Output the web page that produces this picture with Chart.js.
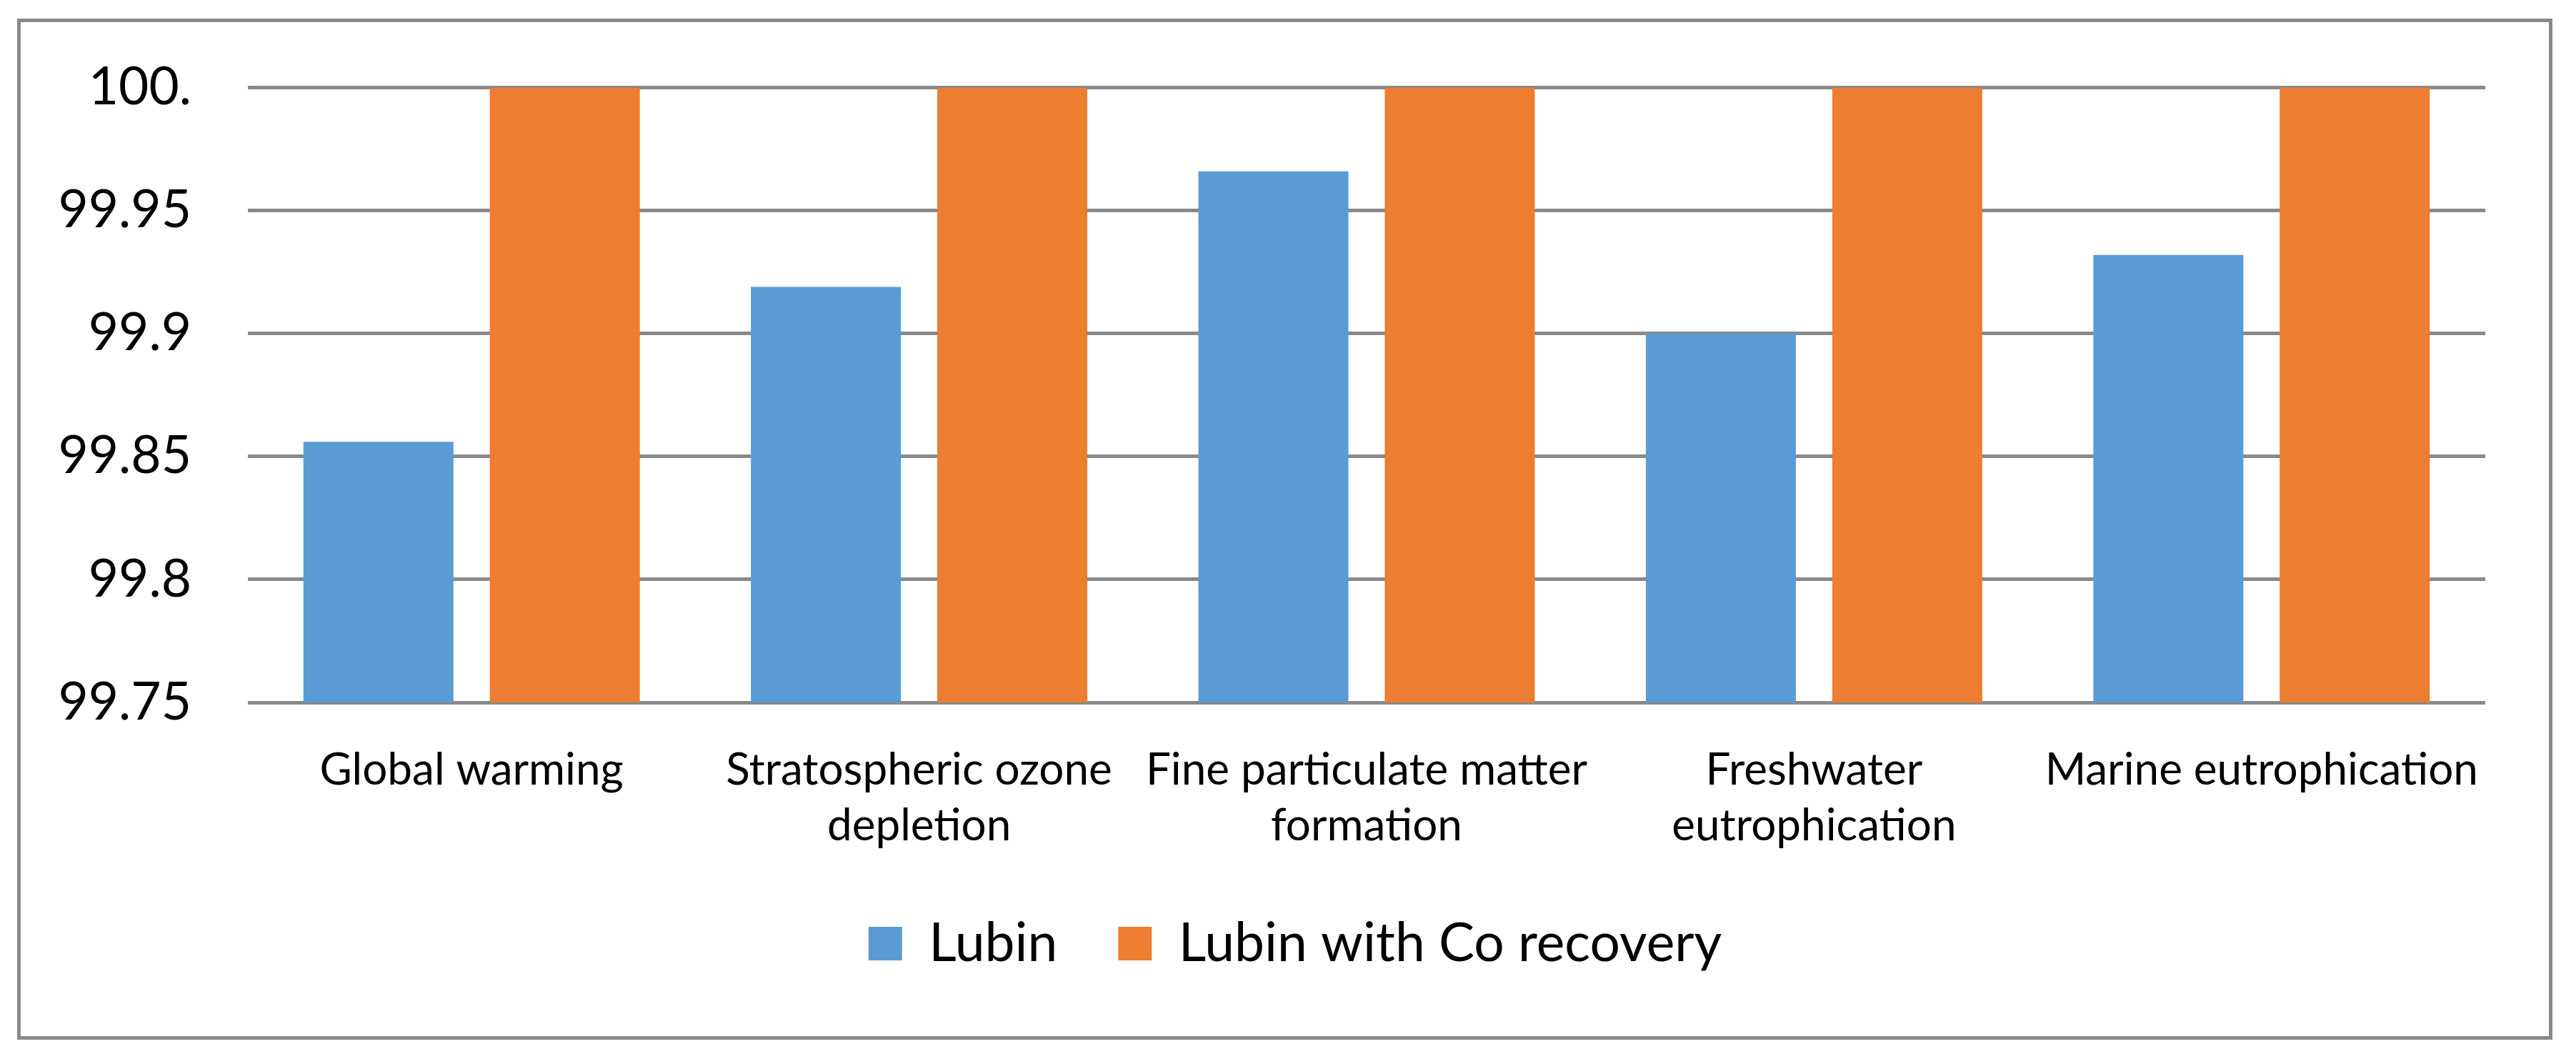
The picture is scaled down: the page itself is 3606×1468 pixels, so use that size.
<!DOCTYPE html>
<html>
<head>
<meta charset="utf-8">
<script src="https://cdn.jsdelivr.net/npm/chart.js@4.4.1/dist/chart.umd.min.js"></script>
<style>
  html, body { margin: 0; padding: 0; background: #ffffff; }
  #wrap { width: 3606px; height: 1468px; position: relative; }
  canvas { display: block; }
</style>
</head>
<body>
<div id="wrap"><canvas id="c" width="3606" height="1468"></canvas></div>
<script>
// ---- data ----
const categories = [
  ['Global warming'],
  ['Stratospheric ozone', 'depletion'],
  ['Fine particulate matter', 'formation'],
  ['Freshwater', 'eutrophication'],
  ['Marine eutrophication']
];
const seriesNames = ['Lubin', 'Lubin with Co recovery'];
const lubin = [99.856, 99.919, 99.966, 99.900, 99.932];
const lubinCo = [100, 100, 100, 100, 100];
const yTickValues = [99.75, 99.8, 99.85, 99.9, 99.95, 100];
const yTickLabels = ['99.75', '99.8', '99.85', '99.9', '99.95', '100.'];

// ---- font sizing (fit to reference text widths) ----
const FAMILY = 'Lato';
const mctx = document.createElement('canvas').getContext('2d');
function fitSize(text, target) {
  mctx.font = '100px ' + FAMILY;
  return Math.round(100 * target / mctx.measureText(text).width);
}
const tickSize = fitSize('99.95', 186);
const catSize = fitSize('Global warming', 422);
const legendSize = fitSize('Lubin with Co recovery', 765);

// ---- layout sizes ----
const PLOT_BOTTOM = 983;
const XAXIS_H = 215;
const LEGEND_PAD = 85;
const legendH = Math.max(legendSize, 47) + LEGEND_PAD + 10;
const padBottom = 1468 - PLOT_BOTTOM - XAXIS_H - legendH;

const GRID = '#898989';

const borderPlugin = {
  id: 'outerBorder',
  beforeDraw(chart) {
    const ctx = chart.ctx;
    ctx.save();
    ctx.fillStyle = '#ffffff';
    ctx.fillRect(0, 0, chart.width, chart.height);
    ctx.strokeStyle = GRID;
    ctx.lineWidth = 5;
    ctx.strokeRect(26.5, 28.5, 3544, 1424);
    ctx.restore();
  }
};

Chart.defaults.color = '#000000';
Chart.defaults.font.family = FAMILY;

new Chart(document.getElementById('c'), {
  type: 'bar',
  data: {
    labels: categories,
    datasets: [
      { label: seriesNames[0], data: lubin, backgroundColor: '#5B9BD5', borderWidth: 0,
        categoryPercentage: 0.833, barPercentage: 0.805 },
      { label: seriesNames[1], data: lubinCo, backgroundColor: '#ED7D31', borderWidth: 0,
        categoryPercentage: 0.833, barPercentage: 0.805 }
    ]
  },
  options: {
    responsive: false,
    devicePixelRatio: 1,
    animation: false,
    layout: { padding: { left: 30, right: 10, top: 120, bottom: padBottom } },
    plugins: {
      tooltip: { enabled: false },
      legend: {
        position: 'bottom',
        labels: {
          boxWidth: 47, boxHeight: 47, padding: LEGEND_PAD,
          font: { size: legendSize, family: FAMILY },
          color: '#000000'
        }
      }
    },
    scales: {
      x: {
        grid: { display: false },
        border: { display: false },
        ticks: {
          autoSkip: false, maxRotation: 0, minRotation: 0,
          padding: 48,
          color: '#000000',
          font: { size: catSize, family: FAMILY, lineHeight: '78px' }
        },
        afterFit(scale) { scale.height = XAXIS_H; }
      },
      y: {
        min: 99.75, max: 100,
        border: { display: false },
        grid: { color: GRID, lineWidth: 5, drawTicks: false },
        afterBuildTicks(scale) { scale.ticks = yTickValues.map(v => ({ value: v })); },
        ticks: {
          padding: 79,
          color: '#000000',
          font: { size: tickSize, family: FAMILY },
          callback: (v, i) => yTickLabels[i]
        },
        afterFit(scale) { scale.width = 317; }
      },
      yRight: {
        position: 'right',
        min: 0, max: 1,
        grid: { display: false },
        border: { display: false },
        ticks: { display: false },
        afterFit(scale) { scale.width = 117; }
      }
    }
  },
  plugins: [borderPlugin]
});
</script>
</body>
</html>
